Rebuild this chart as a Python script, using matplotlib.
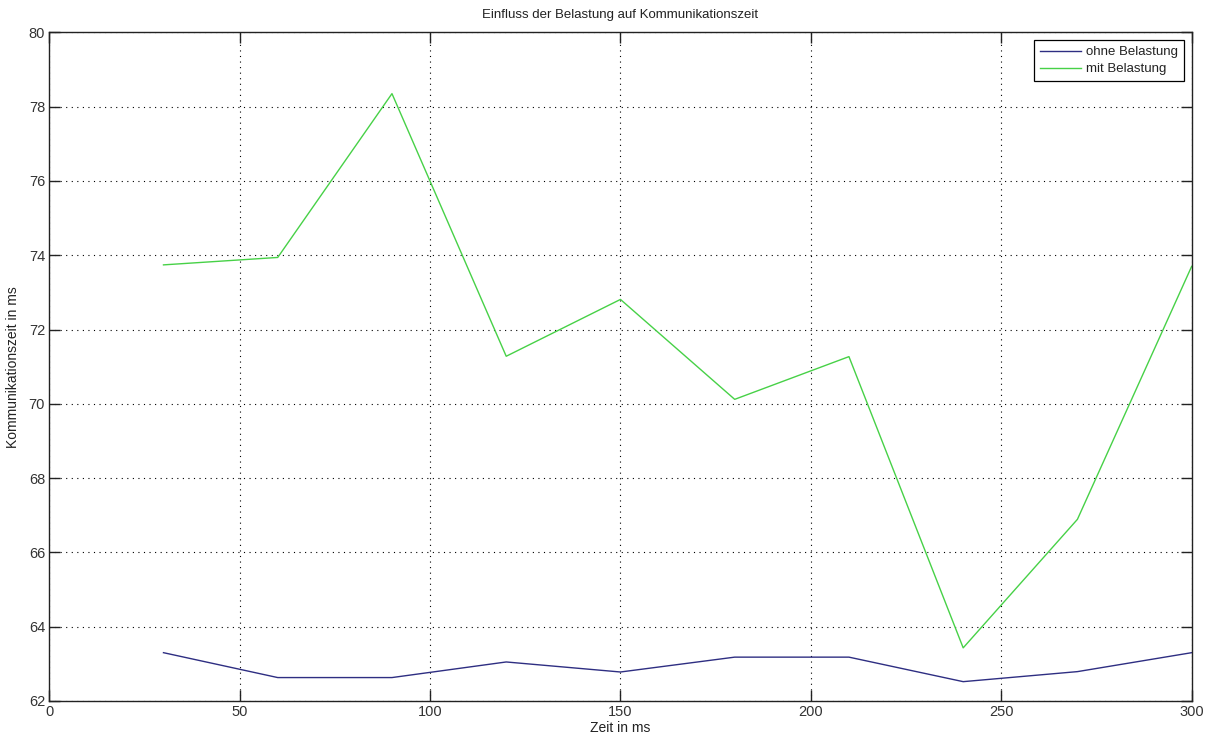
import matplotlib
matplotlib.use("Agg")
import matplotlib.pyplot as plt

# Measurement times and communication times
zeit_ms = [30, 60, 90, 120, 150, 180, 210, 240, 270, 300]
ohne_belastung = [63.30, 62.63, 62.63, 63.05, 62.78, 63.18, 63.18, 62.52, 62.79, 63.30]
mit_belastung = [73.74, 73.94, 78.35, 71.28, 72.81, 70.12, 71.27, 63.43, 66.89, 73.70]

x_ticks = [0, 50, 100, 150, 200, 250, 300]
y_ticks = [62, 64, 66, 68, 70, 72, 74, 76, 78, 80]

plt.rcParams['font.family'] = ['Liberation Sans', 'DejaVu Sans']

fig = plt.figure(figsize=(12.07, 7.35), dpi=100)
ax = fig.add_axes([0.0408, 0.0463, 0.9465, 0.9097])

ax.plot(zeit_ms, ohne_belastung, color='#2e2e82', linewidth=1.0, label='ohne Belastung')
ax.plot(zeit_ms, mit_belastung, color='#47d147', linewidth=1.0, label='mit Belastung')

ax.set_xlim(0, 300)
ax.set_ylim(62, 80)
ax.set_xticks(x_ticks)
ax.set_yticks(y_ticks)
ax.tick_params(direction='in', length=8, width=1, labelsize=10.5,
               top=True, right=True, color='#222222', labelcolor='#333333', pad=3)
ax.grid(True, linestyle=(0, (1, 4)), color='black', linewidth=0.8)
for sp in ax.spines.values():
    sp.set_color('#222222')
    sp.set_linewidth(1.0)

ax.set_title('Einfluss der Belastung auf Kommunikationszeit', fontsize=9.5,
             pad=10, color='#222222')
ax.set_xlabel('Zeit in ms', fontsize=10, labelpad=1, color='#222222')
ax.set_ylabel('Kommunikationszeit in ms', fontsize=10, labelpad=6, color='#222222')

leg = ax.legend(loc='upper right', fontsize=9.5, fancybox=False, framealpha=1,
                edgecolor='black', borderaxespad=0.6, handlelength=3.1,
                borderpad=0.45, labelspacing=0.35, handletextpad=0.35)
leg.get_frame().set_linewidth(0.9)
for t in leg.get_texts():
    t.set_color('#222222')

fig.savefig('out.png', dpi=100)
